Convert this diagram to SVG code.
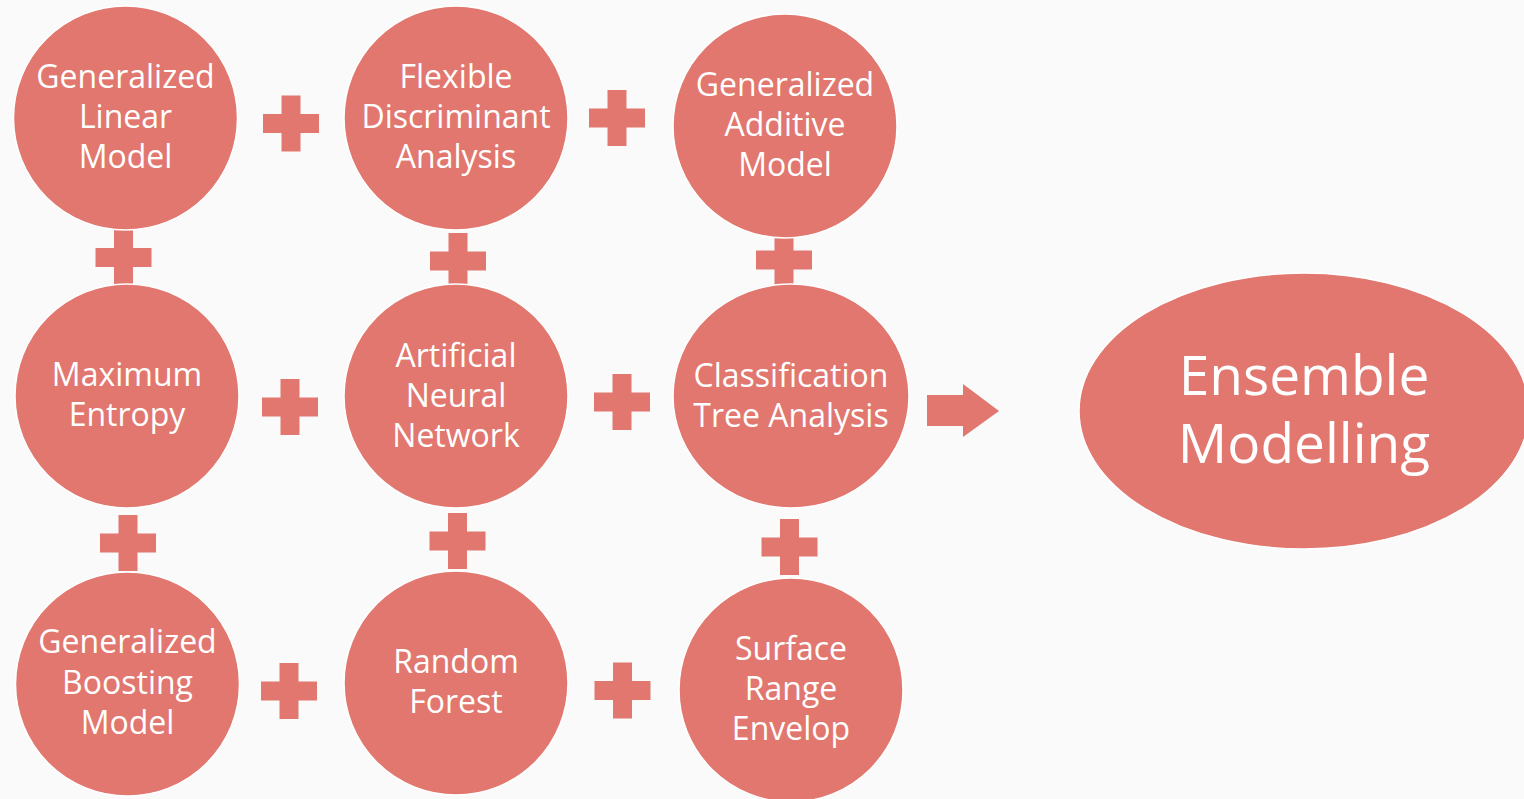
<svg xmlns="http://www.w3.org/2000/svg" xmlns:xlink="http://www.w3.org/1999/xlink" width="1524" height="799" viewBox="0 0 1524 799">
<style>
.node{fill:#E1776E;stroke:#FFFFFF;stroke-width:1.5}
.conn{fill:#E1776E}
.lbl{font-family:"Open Sans","Liberation Sans",sans-serif;font-size:32px;fill:#FFFFFF;text-anchor:middle}
.big{font-family:"Open Sans","Liberation Sans",sans-serif;font-size:55px;fill:#FFFFFF;text-anchor:middle}
</style>
<defs>
<path id="plus" d="M-9.5,-28 h19 v18.5 h18.5 v19 h-18.5 v18.5 h-19 v-18.5 h-18.5 v-19 h18.5 z"/>
</defs>
<rect x="0" y="0" width="1524" height="799" fill="#FAFAFA"/>
<g id="connectors" class="conn">
<use xlink:href="#plus" x="291" y="123.5"/>
<use xlink:href="#plus" x="617" y="118"/>
<use xlink:href="#plus" x="123.5" y="257.5"/>
<use xlink:href="#plus" x="458" y="261"/>
<use xlink:href="#plus" x="784" y="260"/>
<use xlink:href="#plus" x="290" y="407"/>
<use xlink:href="#plus" x="622" y="402"/>
<use xlink:href="#plus" x="128" y="543"/>
<use xlink:href="#plus" x="457.5" y="541"/>
<use xlink:href="#plus" x="789.5" y="547"/>
<use xlink:href="#plus" x="289" y="691"/>
<use xlink:href="#plus" x="622.5" y="690.5"/>
<polygon points="927,395 963,395 963,384 999,411 963,437 963,426 927,426"/>
</g>
<g id="glm">
<circle class="node" cx="125.5" cy="118" r="112"/>
<text class="lbl"><tspan x="125.5" y="88">Generalized</tspan><tspan x="125.5" y="128">Linear</tspan><tspan x="125.5" y="168">Model</tspan></text>
</g>
<g id="fda">
<circle class="node" cx="456" cy="118" r="112"/>
<text class="lbl"><tspan x="456" y="88">Flexible</tspan><tspan x="456" y="128">Discriminant</tspan><tspan x="456" y="168">Analysis</tspan></text>
</g>
<g id="gam">
<circle class="node" cx="785" cy="126" r="112"/>
<text class="lbl"><tspan x="785" y="96">Generalized</tspan><tspan x="785" y="136">Additive</tspan><tspan x="785" y="176">Model</tspan></text>
</g>
<g id="me">
<circle class="node" cx="127" cy="396" r="112"/>
<text class="lbl"><tspan x="127" y="386">Maximum</tspan><tspan x="127" y="426">Entropy</tspan></text>
</g>
<g id="ann">
<circle class="node" cx="456" cy="396" r="112"/>
<text class="lbl"><tspan x="456" y="367">Artificial</tspan><tspan x="456" y="407">Neural</tspan><tspan x="456" y="447">Network</tspan></text>
</g>
<g id="cta">
<ellipse class="node" cx="791" cy="396" rx="118" ry="112"/>
<text class="lbl"><tspan x="791" y="387">Classification</tspan><tspan x="791" y="427">Tree Analysis</tspan></text>
</g>
<g id="gbm">
<circle class="node" cx="127.5" cy="684" r="112"/>
<text class="lbl"><tspan x="127.5" y="653">Generalized</tspan><tspan x="127.5" y="694">Boosting</tspan><tspan x="127.5" y="734">Model</tspan></text>
</g>
<g id="rf">
<circle class="node" cx="456" cy="683" r="112"/>
<text class="lbl"><tspan x="456" y="673">Random</tspan><tspan x="456" y="713">Forest</tspan></text>
</g>
<g id="sre">
<circle class="node" cx="791" cy="690" r="112"/>
<text class="lbl"><tspan x="791" y="660">Surface</tspan><tspan x="791" y="700">Range</tspan><tspan x="791" y="740">Envelop</tspan></text>
</g>
<g id="ensemble">
<ellipse class="node" cx="1304" cy="411" rx="225" ry="138"/>
<text class="big"><tspan x="1304" y="395">Ensemble</tspan><tspan x="1304" y="463">Modelling</tspan></text>
</g>
</svg>
